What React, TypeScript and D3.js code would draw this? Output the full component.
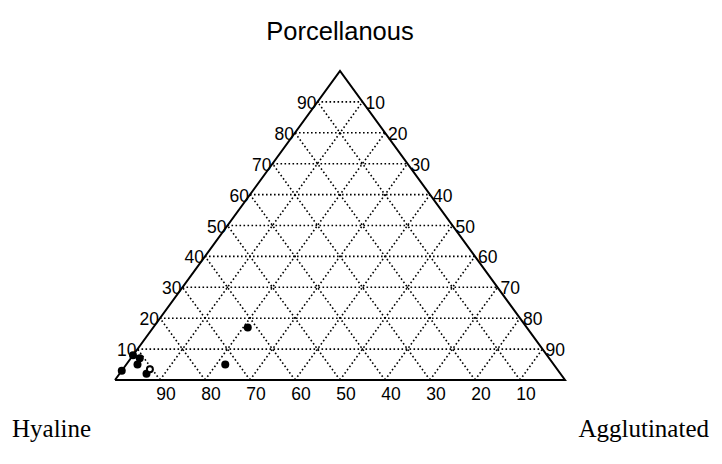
import React from "react";
import * as d3 from "d3";

// Composition of each sample (percent)
const porcellanous = [3, 8, 7, 5, 2, 3.5, 5, 17];
const agglutinated = [0, 0, 2, 2.5, 6, 6, 22, 21];
const hyaline = porcellanous.map((p, i) => 100 - p - agglutinated[i]);
const openMarker = [false, false, false, false, false, true, false, false];

const gridLevels = [10, 20, 30, 40, 50, 60, 70, 80, 90];
const leftLabels = ["10", "20", "30", "40", "50", "60", "70", "80", "90"];
const rightLabels = ["10", "20", "30", "40", "50", "60", "70", "80", "90"];
const bottomLabels = ["10", "20", "30", "40", "50", "60", "70", "80", "90"];

const W = 722;
const H = 464;

export default function App() {
  // horizontal position of a composition: agglutinated + half porcellanous
  const xs = d3.scaleLinear().domain([0, 100]).range([115, 565]);
  const ys = d3.scaleLinear().domain([0, 100]).range([380, 71]);
  const px = (p: number, a: number) => xs(a + p / 2);
  const py = (p: number) => ys(p);

  const line = d3.line<[number, number]>();
  const border = line([
    [px(0, 0), py(0)],
    [px(0, 100), py(0)],
    [px(100, 0), py(100)],
    [px(0, 0), py(0)],
  ]);

  const grid: string[] = [];
  gridLevels.forEach((v) => {
    // constant porcellanous
    grid.push(line([[px(v, 0), py(v)], [px(v, 100 - v), py(v)]])!);
    // constant agglutinated
    grid.push(line([[px(0, v), py(0)], [px(100 - v, v), py(100 - v)]])!);
    // constant hyaline
    grid.push(line([[px(0, 100 - v), py(0)], [px(100 - v, 0), py(100 - v)]])!);
  });

  const tickFont = "Liberation Sans, Arial, sans-serif";
  const serif = "Liberation Serif, Times New Roman, serif";

  return (
    <svg
      width={W}
      height={H}
      style={{ position: "absolute", left: 0, top: 0, background: "#fff" }}
    >
      <rect width={W} height={H} fill="#fff" />
      <g fill="none" stroke="#000" strokeWidth={1.6} strokeDasharray="1.6 2.4">
        {grid.map((d, i) => (
          <path key={i} d={d} />
        ))}
      </g>
      <path d={border!} fill="none" stroke="#000" strokeWidth={2} strokeLinejoin="miter" />

      <g fontFamily={tickFont} fontSize={17.5} fill="#000">
        {gridLevels.map((v, i) => (
          <text
            key={"l" + v}
            x={px(v, 0) - 1}
            y={py(v) + 1}
            textAnchor="end"
            dominantBaseline="central"
          >
            {leftLabels[i]}
          </text>
        ))}
        {gridLevels.map((v, i) => (
          <text
            key={"r" + v}
            x={px(100 - v, v) + 3}
            y={py(100 - v) + 1}
            textAnchor="start"
            dominantBaseline="central"
          >
            {rightLabels[i]}
          </text>
        ))}
        {gridLevels.map((v, i) => (
          <text
            key={"b" + v}
            x={px(0, 100 - v) + 6}
            y={py(0) + 20}
            textAnchor="middle"
          >
            {bottomLabels[i]}
          </text>
        ))}
      </g>

      {hyaline.map((h, i) => (
        <circle
          key={"p" + i}
          cx={px(porcellanous[i], agglutinated[i])}
          cy={py(porcellanous[i])}
          r={openMarker[i] ? 3 : 4}
          fill={openMarker[i] ? "#fff" : "#000"}
          stroke="#000"
          strokeWidth={openMarker[i] ? 2 : 0}
          data-hyaline={h}
        />
      ))}

      <text x={340} y={40} textAnchor="middle" fontFamily={tickFont} fontSize={25.5}>
        Porcellanous
      </text>
      <text x={12} y={437} fontFamily={serif} fontSize={25}>
        Hyaline
      </text>
      <text x={709} y={437} textAnchor="end" fontFamily={serif} fontSize={25}>
        Agglutinated
      </text>
    </svg>
  );
}
